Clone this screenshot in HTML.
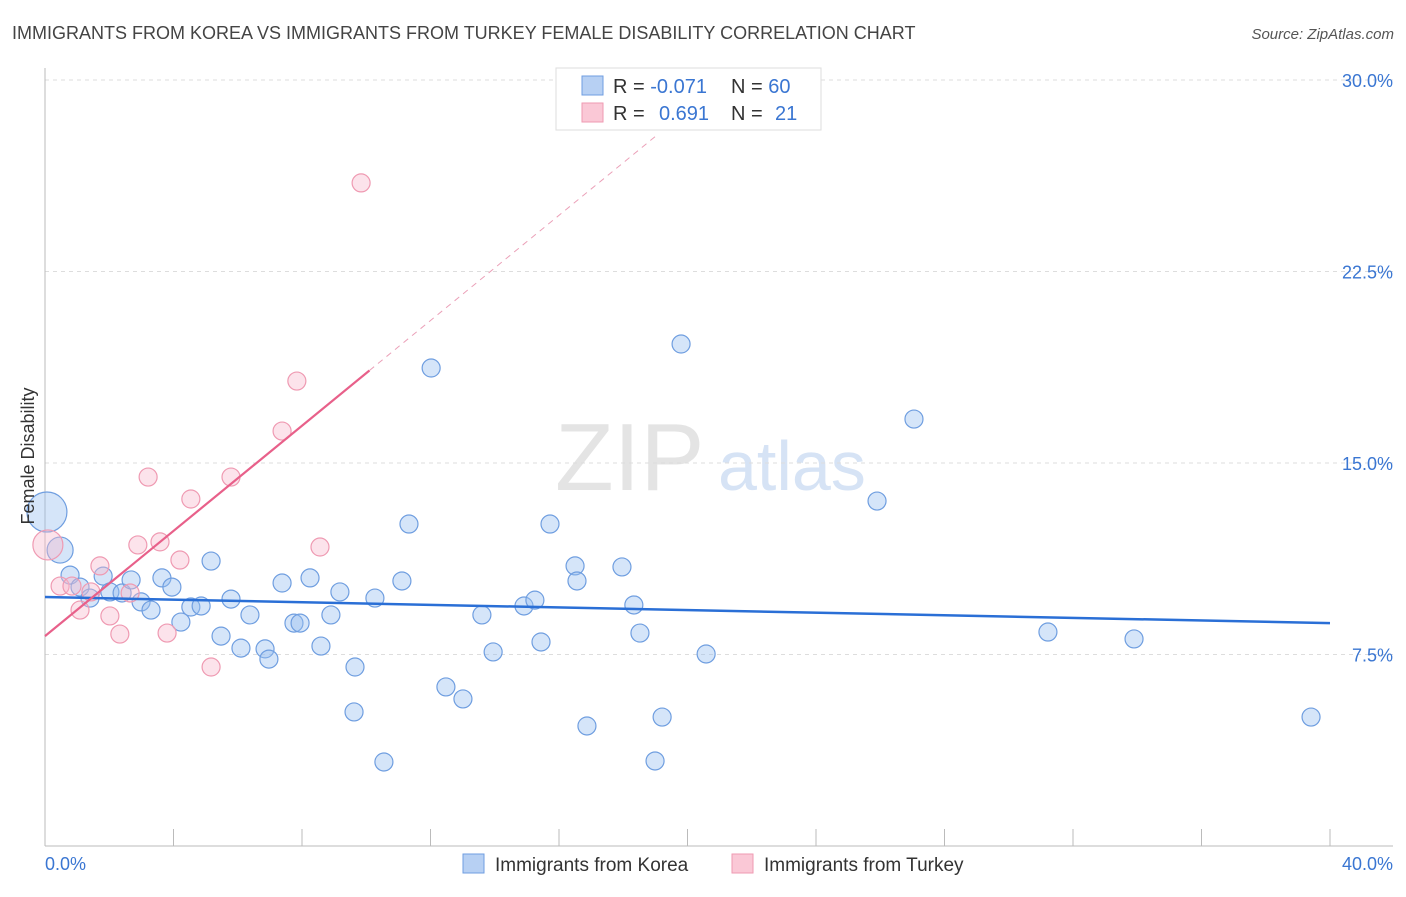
<!DOCTYPE html>
<html><head><meta charset="utf-8"><style>
body{margin:0;background:#fff;font-family:"Liberation Sans",sans-serif;}
svg text{font-family:"Liberation Sans",sans-serif;}
</style></head><body>
<svg id="chart" width="1406" height="892" xmlns="http://www.w3.org/2000/svg">
<text x="12" y="39" font-size="18" fill="#444">IMMIGRANTS FROM KOREA VS IMMIGRANTS FROM TURKEY FEMALE DISABILITY CORRELATION CHART</text>
<text x="1394" y="39" font-size="15" fill="#555" font-style="italic" text-anchor="end">Source: ZipAtlas.com</text>
<text x="555" y="490" font-size="96" fill="#e4e4e4" font-family="Liberation Serif">ZIP</text>
<text x="718" y="490" font-size="70" fill="#d6e3f5">atlas</text>
<g id="grid"></g>
<g id="axes"></g>
<g id="marks"></g>
<text transform="translate(34,456) rotate(-90)" font-size="18" fill="#333" text-anchor="middle">Female Disability</text>
<g>
<rect x="556" y="68" width="265" height="62" fill="#fff" stroke="#ddd"/>
<rect x="582" y="76" width="21" height="19" fill="#b7d0f3" stroke="#6f9ee0"/>
<rect x="582" y="103" width="21" height="19" fill="#fac8d6" stroke="#ef9ab2"/>
<text x="613" y="93" font-size="20" fill="#333">R = <tspan fill="#3a76d2">-0.071</tspan></text>
<text x="731" y="93" font-size="20" fill="#333">N = <tspan fill="#3a76d2">60</tspan></text>
<text x="613" y="120" font-size="20" fill="#333">R = <tspan fill="#3a76d2" x="659">0.691</tspan></text>
<text x="731" y="120" font-size="20" fill="#333">N = <tspan fill="#3a76d2" x="775">21</tspan></text>
</g>
<g>
<rect x="463" y="854" width="21" height="19" fill="#b7d0f3" stroke="#6f9ee0"/>
<text x="495" y="871" font-size="19" fill="#333">Immigrants from Korea</text>
<rect x="732" y="854" width="21" height="19" fill="#fac8d6" stroke="#ef9ab2"/>
<text x="764" y="871" font-size="19" fill="#333">Immigrants from Turkey</text>
</g>
</svg>
<script>
const koreaX=[0.06,0.47,0.78,1.09,1.40,1.81,2.02,2.40,2.68,2.99,3.30,3.64,3.95,4.23,4.54,4.86,5.17,5.48,5.79,6.10,6.38,6.85,6.97,7.38,7.75,7.94,8.25,8.59,8.90,9.18,9.65,9.62,10.27,10.55,11.11,11.33,12.02,12.48,13.01,13.60,13.95,14.91,15.25,15.44,15.72,16.50,16.56,16.87,17.96,18.33,18.52,18.99,19.21,19.80,20.58,25.90,27.05,31.22,33.90,39.41];
const koreaY=[13.08,11.59,10.61,10.14,9.71,10.57,9.95,9.91,10.42,9.56,9.24,10.50,10.14,8.77,9.36,9.40,11.16,8.22,9.67,7.75,9.05,7.72,7.32,10.30,8.73,8.73,10.50,7.83,9.05,9.95,7.01,5.25,9.71,3.29,10.38,12.61,18.72,6.23,5.76,9.05,7.60,9.40,9.63,7.99,12.61,10.97,10.38,4.70,10.93,9.44,8.34,3.33,5.05,19.66,7.52,13.51,16.72,8.38,8.11,5.05];
const koreaR=[20,13,9,9,9,9,9,9,9,9,9,9,9,9,9,9,9,9,9,9,9,9,9,9,9,9,9,9,9,9,9,9,9,9,9,9,9,9,9,9,9,9,9,9,9,9,9,9,9,9,9,9,9,9,9,9,9,9,9,9];
const turkeyX=[0.09,0.47,0.84,1.09,1.43,1.71,2.02,2.33,2.65,2.89,3.21,3.58,3.80,4.20,4.54,5.17,5.79,7.38,7.84,8.56,9.84];
const turkeyY=[11.79,10.18,10.18,9.24,9.95,10.97,9.01,8.30,9.91,11.79,14.45,11.91,8.34,11.20,13.59,7.01,14.45,16.25,18.21,11.71,25.97];
const turkeyR=[15,9,9,9,9,9,9,9,9,9,9,9,9,9,9,9,9,9,9,9,9];
const yTicks=[7.5,15,22.5,30];
const yTickLabels=["7.5%","15.0%","22.5%","30.0%"];
const xTicks=[0,4,8,12,16,20,24,28,32,36,40];
const koreaLine=[9.75,8.73];
const turkeyLine=[8.22,1.03];
const NS="http://www.w3.org/2000/svg";
const X=v=>45+v/40*1285;
const Y=v=>846-v/7.5*191.5;
function mk(parent,tag,attrs){const e=document.createElementNS(NS,tag);for(const k in attrs)e.setAttribute(k,attrs[k]);document.getElementById(parent).appendChild(e);return e;}
yTicks.forEach((t,i)=>{
 const l=mk('grid','line',{x1:45,x2:1393,y1:Y(t),y2:Y(t),stroke:'#ddd','stroke-dasharray':'4,4'});
 
 
 const tx=mk('grid','text',{x:1393,y:Y(t)+7,'font-size':18,fill:'#3a76d2','text-anchor':'end'});
 tx.textContent=yTickLabels[i];
 
 
});
const ya=mk('axes','line',{x1:45,x2:45,y1:68,y2:846,stroke:'#bbb'});


const xa=mk('axes','line',{x1:45,x2:1393,y1:846,y2:846,stroke:'#bbb'});


xTicks.forEach(t=>{
 const l=mk('axes','line',{x1:X(t),x2:X(t),y1:829,y2:846,stroke:'#bbb'});
 
 
});
const xl0=mk('axes','text',{x:45,y:870,'font-size':18,fill:'#3a76d2'});xl0.textContent='0.0%';


const xl1=mk('axes','text',{x:1393,y:870,'font-size':18,fill:'#3a76d2','text-anchor':'end'});xl1.textContent='40.0%';


koreaX.forEach((x,i)=>{
 const c=mk('marks','circle',{cx:X(x),cy:Y(koreaY[i]),r:koreaR[i],fill:'rgba(150,190,240,0.4)',stroke:'#6f9ee0','stroke-width':1.2});
 
 
});
turkeyX.forEach((x,i)=>{
 const c=mk('marks','circle',{cx:X(x),cy:Y(turkeyY[i]),r:turkeyR[i],fill:'rgba(248,185,205,0.4)',stroke:'#ef9ab2','stroke-width':1.2});
 
 
});
const bl=mk('marks','line',{x1:X(0),y1:Y(koreaLine[0]),x2:X(40),y2:Y(koreaLine[1]),stroke:'#2a6fd6','stroke-width':2.5});


const pl=mk('marks','line',{x1:X(0),y1:Y(turkeyLine[0]),x2:X(10.1),y2:Y(turkeyLine[0]+turkeyLine[1]*10.1),stroke:'#e8608a','stroke-width':2.2});


const pd=mk('marks','line',{x1:X(10.1),y1:Y(turkeyLine[0]+turkeyLine[1]*10.1),x2:X(19.1),y2:Y(turkeyLine[0]+turkeyLine[1]*19.1),stroke:'#eba0b8','stroke-width':1,'stroke-dasharray':'6,5'});


</script>
</body></html>
